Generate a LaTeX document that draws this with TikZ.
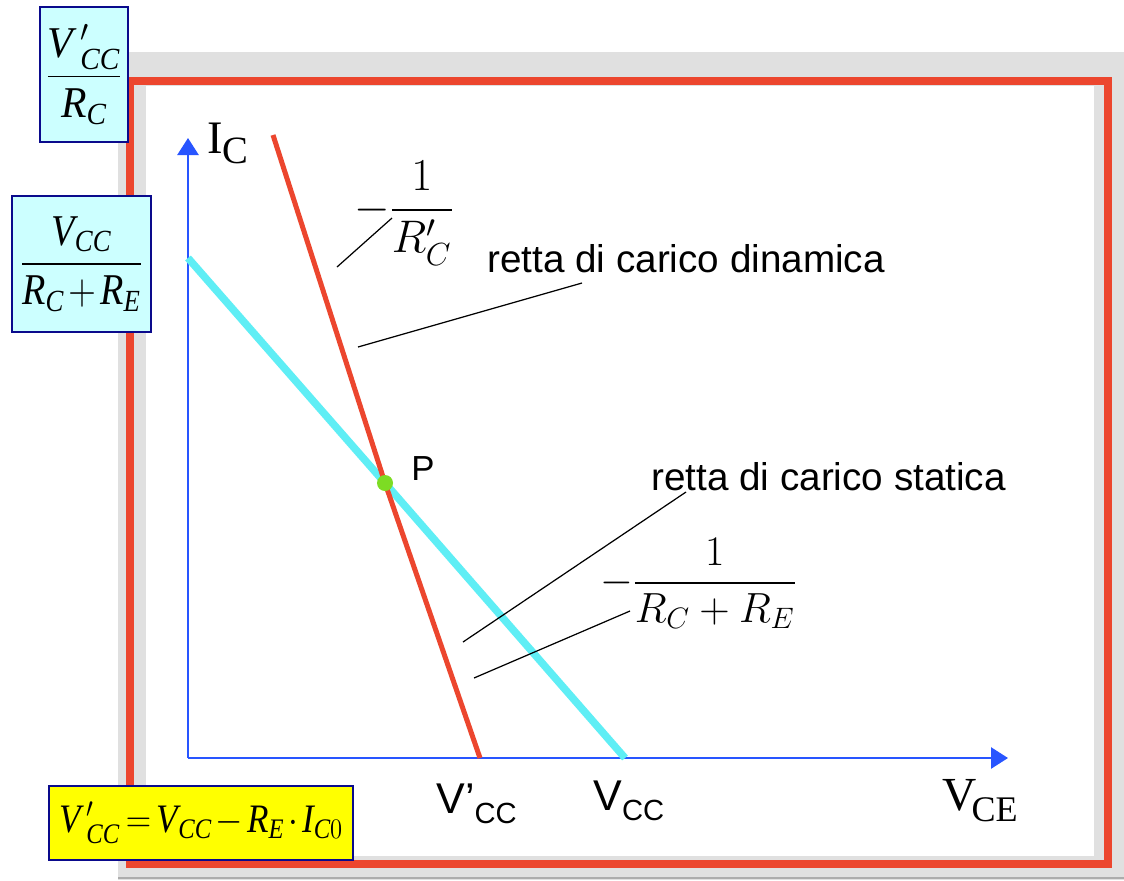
\RequirePackage{fix-cm}
\documentclass[tikz,border=0pt]{standalone}
\usepackage{amsmath}
\usepackage{fontspec}
\setmainfont{Liberation Serif}
\newfontfamily\arialfont{Liberation Sans}
\usetikzlibrary{arrows.meta}

\definecolor{framegray}{RGB}{224,224,224}
\definecolor{framered}{RGB}{236,70,46}
\definecolor{axisblue}{RGB}{40,85,255}
\definecolor{staticcyan}{RGB}{95,238,245}
\definecolor{pgreen}{RGB}{125,220,35}
\definecolor{boxcyan}{RGB}{204,255,255}
\definecolor{boxnavy}{RGB}{10,10,140}
\definecolor{boxyellow}{RGB}{255,255,0}

\begin{document}
\begin{tikzpicture}[
    x=0.02cm, y=-0.02cm,
    eqbox/.style={draw=boxnavy, line width=1.2pt, fill=boxcyan, inner sep=0pt},
    axis/.style={draw=axisblue, line width=1.5pt, -{Triangle[length=0.34cm, width=0.42cm]}},
    leader/.style={draw=black, line width=0.7pt},
    lbl/.style={inner sep=0pt, anchor=base west},
    sanslbl/.style={lbl, font=\arialfont\fontsize{22}{26}\selectfont}
]
\useasboundingbox (0,0) rectangle (1124,880);

% ============================================
% CORNICE
% ============================================
\fill[framegray] (118,52) rectangle (1124,880);
\draw[gray!65, line width=1.2pt] (118,878) -- (1124,878);
\draw[framered, line width=0.16cm] (130,80.5) rectangle (1107.5,864);
\fill[white] (146,86) rectangle (1094,856);

% ============================================
% ASSI
% ============================================
\coordinate (O) at (188,758);
\coordinate (ytop) at (188,138);
\coordinate (xend) at (1008,758);
\draw[axis] (O) -- (ytop);
\draw[axis] (O) -- (xend);

\node[lbl, font=\fontsize{26.5}{30}\selectfont] (IC) at (207,153) {I\raisebox{-5.7pt}{\fontsize{22}{26}\selectfont C}};
\node[lbl, font=\fontsize{27}{32}\selectfont] (VCE) at (942,810) {V\kern-2.8pt\raisebox{-6.8pt}{\fontsize{20.5}{24}\selectfont CE}};

% ============================================
% RETTE DI CARICO
% ============================================
\node[circle, inner sep=0pt, minimum size=0.32cm] (P) at (385,483) {};
\coordinate (statA) at (188,258);
\coordinate (statB) at (625,758);
\coordinate (dynA) at (273,135);
\coordinate (dynB) at (480,758);

\draw[staticcyan, line width=0.15cm] (statA) -- (P.center) -- (statB);
\draw[framered, line width=0.1cm] (dynA) -- (P.center) -- (dynB);
\fill[pgreen] (P) circle[radius=0.16cm];
\node[lbl, font=\arialfont\fontsize{19.8}{24}\selectfont] (Plab) at (411,480) {P};

% punti sull'asse V_CE
\node[lbl, font=\arialfont\fontsize{24.5}{28}\selectfont] (Vpcc) at (436,813) {V’\raisebox{-5.7pt}{\fontsize{16.6}{20}\selectfont CC}};
\node[lbl, font=\arialfont\fontsize{24.5}{28}\selectfont] (Vcc) at (593,810) {V\raisebox{-5.7pt}{\fontsize{16.6}{20}\selectfont CC}};

% ============================================
% ETICHETTE E PENDENZE
% ============================================
\node[sanslbl] (dinlab) at (487,272) {retta di carico dinamica};
\node[sanslbl] (statlab) at (651,490) {retta di carico statica};

\node[anchor=base east, inner sep=0pt, font=\fontsize{26}{30}\selectfont] (fdin) at (454,221.5) {$-\dfrac{1}{R'_C}$};
\node[anchor=base east, inner sep=0pt, font=\fontsize{24}{28}\selectfont] (fstat) at (797,593.6) {$-\dfrac{1}{R_C+R_E}$};

\coordinate (fdinA) at (337,267);
\coordinate (fdinB) at (392,218);
\coordinate (dinA) at (358,347);
\coordinate (dinB) at (582,283);
\coordinate (statlA) at (463,642);
\coordinate (statlB) at (686,492);
\coordinate (fstatA) at (474,678);
\coordinate (fstatB) at (630,611);
\draw[leader] (fdinA) -- (fdinB);
\draw[leader] (dinA) -- (dinB);
\draw[leader] (statlA) -- (statlB);
\draw[leader] (fstatA) -- (fstatB);

% ============================================
% FORMULE NEI RIQUADRI
% ============================================
\node[eqbox, minimum width=1.76cm, minimum height=2.7cm, font=\fontsize{25}{30}\selectfont] (boxdin) at (84,74.5)
  {\scalebox{0.95}[1]{$\dfrac{\mathit{V}\,'_{\mathit{CC}}}{\mathit{R}_{\mathit{C}}}$}};
\node[eqbox, minimum width=2.78cm, minimum height=2.72cm, font=\fontsize{25}{30}\selectfont] (boxstat) at (81.5,264)
  {\medmuskip=2mu\scalebox{0.87}[1]{$\dfrac{\mathit{V}_{\mathit{CC}}}{\mathit{R}_{\mathit{C}}+\mathit{R}_{\mathit{E}}}$}};
\node[eqbox, fill=boxyellow, minimum width=6.08cm, minimum height=1.48cm, font=\fontsize{23}{28}\selectfont] (boxvcc) at (201,823)
  {\thickmuskip=3mu\medmuskip=2mu\scalebox{0.87}[1]{$\mathit{V}\,'_{\mathit{CC}}=\mathit{V}_{\mathit{CC}}-\mathit{R}_{\mathit{E}}\cdot\mathit{I}_{\mathit{C}0}$}};

\end{tikzpicture}
\end{document}
